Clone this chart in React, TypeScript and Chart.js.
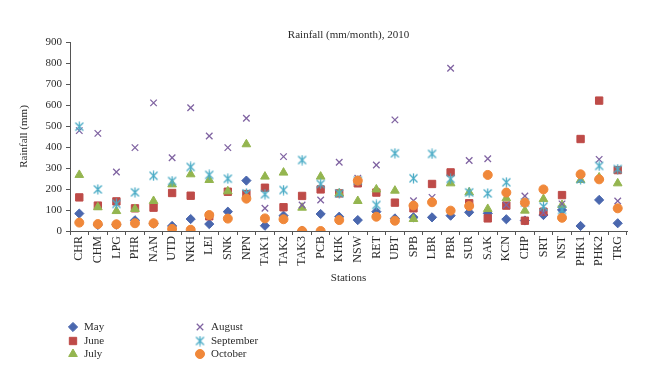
import React, { useEffect, useRef } from 'react';
import { Chart, registerables } from 'chart.js';
import { drawPoint } from 'chart.js/helpers';

Chart.register(...registerables);

const titleText = 'Rainfall (mm/month), 2010';
const xTitle = 'Stations';
const yTitle = 'Rainfall (mm)';

const stations = ['CHR', 'CHM', 'LPG', 'PHR', 'NAN', 'UTD', 'NKH', 'LEI', 'SNK', 'NPN', 'TAK1', 'TAK2', 'TAK3', 'PCB', 'KHK', 'NSW', 'RET', 'UBT', 'SPB', 'LBR', 'PBR', 'SUR', 'SAK', 'KCN', 'CHP', 'SRT', 'NST', 'PHK1', 'PHK2', 'TRG'];

const may = [83, 29, 30, 51, 35, 24, 57, 33, 92, 240, 25, 73, 2, 81, 68, 52, 92, 60, 65, 65, 73, 89, 84, 56, 50, 76, 100, 24, 148, 37];
const june = [160, 121, 141, 108, 111, 181, 168, 70, 187, 176, 206, 113, 167, 198, 179, 227, 183, 135, 108, 224, 279, 132, 60, 121, 49, 92, 171, 438, 621, 290];
const july = [267, 113, 95, 105, 143, 222, 270, 243, 189, 413, 259, 278, 111, 259, 179, 143, 198, 192, 57, null, 227, 184, 105, 156, 97, 152, 124, 243, 255, 227];
const august = [478, 465, 281, 397, 610, 349, 587, 452, 397, 537, 108, 354, 124, 148, 327, 251, 314, 529, 144, 160, 775, 336, 344, 124, 167, 87, 129, 246, 341, 143];
const september = [497, 198, 129, 184, 263, 238, 305, 267, 249, 179, 175, 195, 338, 224, 179, 240, 124, 370, 251, 367, 248, 184, 179, 232, 135, 116, 100, 246, 310, 295];
const october = [40, 33, 32, 37, 37, 10, 6, 76, 59, 154, 60, 56, 0, 0, 52, 240, 68, 49, 121, 137, 97, 119, 267, 183, 135, 198, 63, 270, 246, 108];

const TEXT = '#2b2b2b';
const AXIS = '#555555';
const FONT = '"Liberation Serif", "DejaVu Serif", serif';

function makeStar(color: string): HTMLCanvasElement {
  const c = document.createElement('canvas');
  c.width = 11;
  c.height = 11;
  const g = c.getContext('2d')!;
  g.strokeStyle = color;
  g.lineWidth = 1.3;
  g.beginPath();
  g.moveTo(1.5, 1.5);
  g.lineTo(9.5, 9.5);
  g.moveTo(9.5, 1.5);
  g.lineTo(1.5, 9.5);
  g.moveTo(5.5, 0.5);
  g.lineTo(5.5, 10.5);
  g.stroke();
  return c;
}

export default function App() {
  const ref = useRef<HTMLCanvasElement | null>(null);

  useEffect(() => {
    if (!ref.current) return;
    const star = makeStar('#4BACC6');
    const series = [
      { label: 'May', data: may, color: '#4A67AE', style: 'rectRot' as any, radius: 4.6, bw: 1 },
      { label: 'June', data: june, color: '#BE4B48', style: 'rect' as any, radius: 5.2, bw: 1 },
      { label: 'July', data: july, color: '#94B54F', style: 'triangle' as any, radius: 5, bw: 1 },
      { label: 'August', data: august, color: '#8064A2', style: 'crossRot' as any, radius: 4.6, bw: 1.3 },
      { label: 'September', data: september, color: '#4BACC6', style: star as any, radius: 5, bw: 1 },
      { label: 'October', data: october, color: '#F0883A', style: 'circle' as any, radius: 4.5, bw: 1 },
    ];

    const datasets = series.map((s, i) => ({
      label: s.label,
      data: s.data,
      showLine: false,
      order: 10 - i,
      backgroundColor: s.color,
      borderColor: s.color,
      pointBackgroundColor: s.color,
      pointBorderColor: s.color,
      pointStyle: s.style,
      pointRadius: s.radius,
      pointHoverRadius: s.radius,
      pointBorderWidth: s.bw,
    }));

    const decor = {
      id: 'decor',
      afterDraw(chart: any) {
        const { ctx, chartArea } = chart;
        const cx = (chartArea.left + chartArea.right) / 2;
        ctx.save();
        ctx.fillStyle = TEXT;
        ctx.font = `11px ${FONT}`;
        ctx.textAlign = 'center';
        ctx.textBaseline = 'middle';
        ctx.fillText(titleText, cx, 35);
        ctx.fillText(xTitle, cx, 278);
        ctx.save();
        ctx.translate(24, (chartArea.top + chartArea.bottom) / 2);
        ctx.rotate(-Math.PI / 2);
        ctx.fillText(yTitle, 0, 0);
        ctx.restore();

        const rows = [327, 341, 354];
        series.forEach((s, i) => {
          const col = Math.floor(i / 3);
          const row = i % 3;
          const mx = col === 0 ? 73 : 200;
          const tx = col === 0 ? 84 : 211;
          const y = rows[row];
          ctx.save();
          ctx.fillStyle = s.color;
          ctx.strokeStyle = s.color;
          ctx.lineWidth = s.bw;
          drawPoint(ctx, { pointStyle: s.style, rotation: 0, radius: s.radius, borderWidth: s.bw } as any, mx, y);
          ctx.restore();
          ctx.fillStyle = TEXT;
          ctx.textAlign = 'left';
          ctx.fillText(s.label, tx, y);
        });
        ctx.restore();
      },
    };

    const chart = new Chart(ref.current, {
      type: 'line',
      data: { labels: stations, datasets: datasets as any },
      options: {
        animation: false,
        responsive: false,
        layout: { padding: { left: 0, right: 33, top: 42, bottom: 0 } },
        plugins: {
          legend: { display: false },
          title: { display: false },
          tooltip: { enabled: false },
        },
        scales: {
          x: {
            type: 'category',
            offset: true,
            grid: { display: true, drawOnChartArea: false, offset: true, tickLength: 4, color: AXIS },
            border: { color: AXIS, width: 1 },
            ticks: {
              autoSkip: false,
              minRotation: 90,
              maxRotation: 90,
              padding: 1,
              color: TEXT,
              font: { family: FONT, size: 12 },
            },
            afterFit: (s: any) => {
              s.height = 160;
            },
          },
          y: {
            min: 0,
            max: 900,
            ticks: { stepSize: 100, padding: 4, color: TEXT, font: { family: FONT, size: 11 } },
            grid: { drawOnChartArea: false, tickLength: 4, color: AXIS },
            border: { color: AXIS, width: 1 },
            afterFit: (s: any) => {
              s.width = 70;
            },
          },
        },
      },
      plugins: [decor],
    });

    return () => chart.destroy();
  }, []);

  return (
    <div style={{ position: 'absolute', left: 0, top: 0, width: 660, height: 391, background: '#fff' }}>
      <canvas ref={ref} width={660} height={391} style={{ display: 'block' }} />
    </div>
  );
}
